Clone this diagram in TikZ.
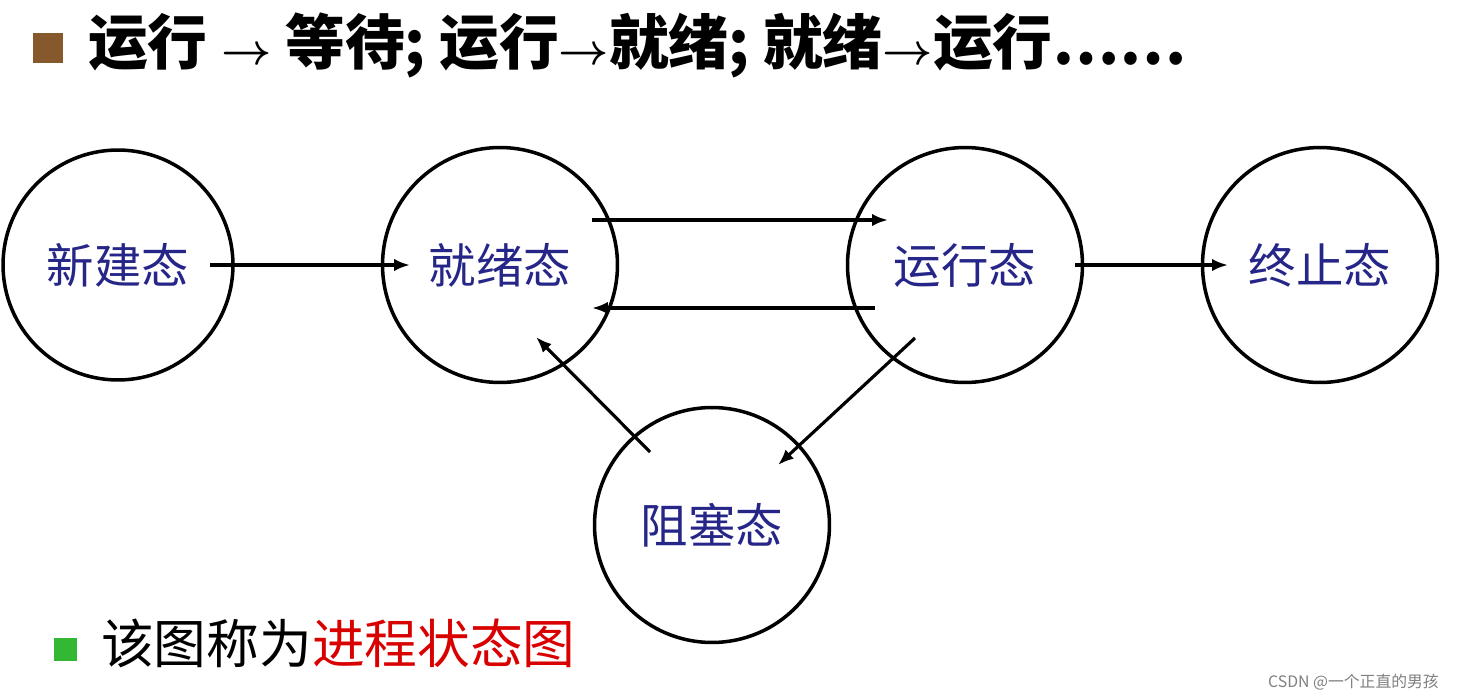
\documentclass[tikz,border=0pt]{standalone}
\usepackage{fontspec}
\setmainfont{Noto Sans CJK SC}
\usetikzlibrary{arrows.meta}
\newcommand{\bigarr}{{\fontsize{46}{46}\selectfont$\boldsymbol{\rightarrow}$}}
\usepackage{amsmath}
\begin{document}
\begin{tikzpicture}[x=0.02cm,y=-0.02cm,
 st/.style={draw,line width=2pt,circle,minimum size=4.7cm,inner sep=0pt,font=\fontsize{27}{30}\selectfont,text=blue!45!black!85},
 ar/.style={-{Latex[length=9pt,width=7pt]},line width=1.8pt}]
\useasboundingbox (0,0) rectangle (1458,700);
\fill[white] (0,0) rectangle (1458,700);
\fill[brown!70!black] (33,33) rectangle (63,63);
\node[anchor=west,font=\fontsize{34}{36}\selectfont\bfseries] (title) at (82,45) {运行 \bigarr{} 等待; 运行\bigarr{}就绪; 就绪\bigarr{}运行……};
\node[st,minimum size=4.6cm] (new) at (118,265) {新建态};
\node[st] (ready) at (500,265) {就绪态};
\node[st] (run) at (965,265) {运行态};
\node[st] (end) at (1320,265) {终止态};
\node[st] (blk) at (712,525) {阻塞态};
\coordinate (a1) at (210,265); \coordinate (a2) at (410,265);
\coordinate (b1) at (592,220); \coordinate (b2) at (888,220);
\coordinate (c1) at (875,308); \coordinate (c2) at (592,308);
\coordinate (d1) at (1075,265); \coordinate (d2) at (1228,265);
\coordinate (e1) at (915,338); \coordinate (e2) at (778,465);
\coordinate (f1) at (650,452); \coordinate (f2) at (536,337);
\draw[ar] (a1) -- (a2);
\draw[ar] (b1) -- (b2);
\draw[ar] (c1) -- (c2);
\draw[ar] (d1) -- (d2);
\draw[ar] (e1) -- (e2);
\draw[ar] (f1) -- (f2);
\fill[green!65!black!80] (54,638) rectangle (77,661);
\node[anchor=west,font=\fontsize{30}{32}\selectfont] (cap) at (95,643) {该图称为\textcolor{red!85!black}{进程状态图}};
\node[anchor=east,font=\fontsize{9}{10}\selectfont,text=gray] (wm) at (1445,682) {CSDN @一个正直的男孩};
\end{tikzpicture}
\end{document}
